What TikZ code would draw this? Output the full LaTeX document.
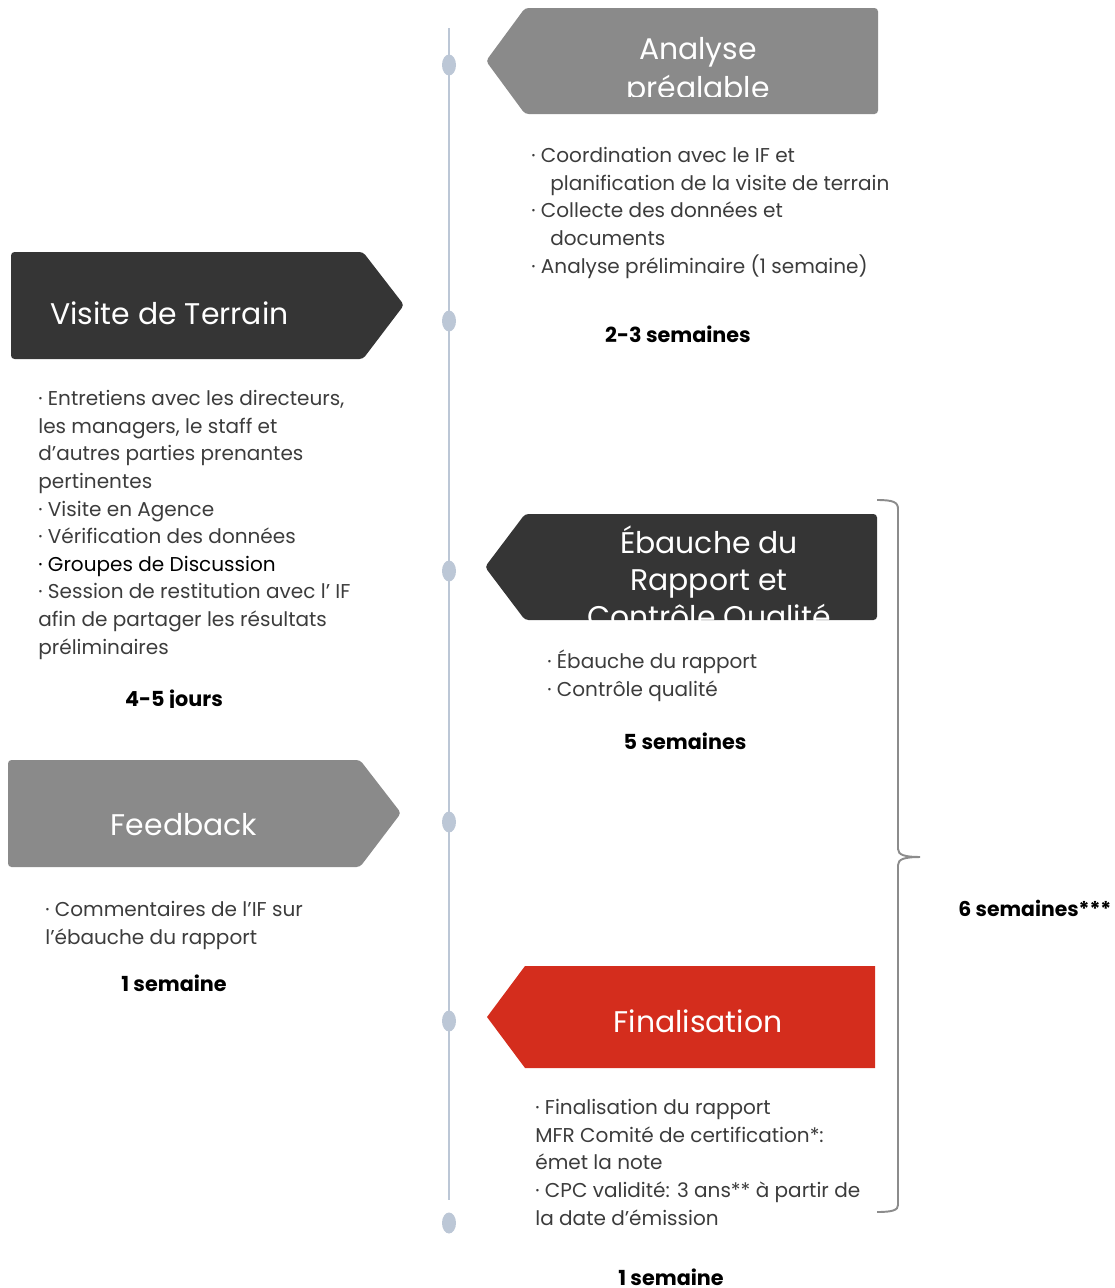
\documentclass[tikz,border=0pt]{standalone}
\usepackage{fontspec}
\setmainfont{Poppins}
\usetikzlibrary{shapes.geometric}

\definecolor{boxgray}{HTML}{8A8A8A}
\definecolor{boxdark}{HTML}{353535}
\definecolor{boxred}{HTML}{D42D1D}
\definecolor{linecol}{HTML}{BCC7D6}
\definecolor{bodytext}{HTML}{3C3C3C}
\definecolor{bracecol}{HTML}{8C8C8C}

\tikzset{
  body/.style={font=\fontsize{11.4}{15.7}\selectfont, text=bodytext,
    inner sep=0pt, align=left, anchor=base west},
  title/.style={font=\fontsize{17}{21}\selectfont, text=white,
    inner sep=0pt, align=center},
  dur/.style={font=\fontsize{11.8}{14}\selectfont\bfseries, text=black,
    inner sep=0pt},
  dot/.style={ellipse, fill=linecol, inner sep=0pt,
    minimum width=0.28cm, minimum height=0.42cm},
  tline/.style={linecol, line width=1.7pt}
}

% indent of the continued lines
\def\ind{\hspace*{0.38cm}}

\begin{document}
\begin{tikzpicture}[x=0.02cm, y=-0.02cm]
  \useasboundingbox (0,0) rectangle (1115,1288);

  % timeline
  \coordinate (ltop) at (449,28);
  \coordinate (lbot) at (449,1200);
  \draw[tline] (ltop) -- (lbot);
  \node[dot] (d1) at (449,  65) {};
  \node[dot] (d2) at (449, 321) {};
  \node[dot] (d3) at (449, 571) {};
  \node[dot] (d4) at (449, 822) {};
  \node[dot] (d5) at (449,1021) {};
  \node[dot] (d6) at (449,1223) {};

  % Analyse prealable
  \fill[boxgray, rounded corners=2pt]
    (486,61) -- (525,8) -- (878,8) -- (878,114) -- (525,114) -- cycle;
  \begin{scope}
    \clip (525,8) rectangle (878,96);
    \node[title, font=\fontsize{17}{22}\selectfont] (analyse) at (698,72) {Analyse\\préalable};
  \end{scope}
  \node[body] (analyseTxt) at (531,273)
    {· Coordination avec le IF et\\
     \ind planification de la visite de terrain\\
     · Collecte des données et\\
     \ind documents\\
     · Analyse préliminaire (1 semaine)};
  \node[dur] (analyseDur) at (678,334) {2-3 semaines};

  % Visite de terrain
  \fill[boxdark, rounded corners=2pt]
    (11,252) -- (363,252) -- (404,305) -- (363,359) -- (11,359) -- cycle;
  \node[title, anchor=west] (visite) at (50,313) {Visite de Terrain};
  \node[body] (visiteTxt) at (38,654)
    {· Entretiens avec les directeurs,\\
     les managers, le staff et\\
     d’autres parties prenantes\\
     pertinentes\\
     · Visite en Agence\\
     · Vérification des données\\
     \textcolor{black}{· Groupes de Discussion}\\
     · Session de restitution avec l’ IF\\
     afin de partager les résultats\\
     préliminaires};
  \begin{scope}
    \clip (100,680) rectangle (260,707);
    \node[dur] (visiteDur) at (174,701) {4-5 jours};
  \end{scope}

  % Ebauche du rapport
  \fill[boxdark, rounded corners=2pt]
    (485,567) -- (525,514) -- (877,514) -- (877,620) -- (525,620) -- cycle;
  \begin{scope}
    \clip (525,514) rectangle (877,620);
    \node[title] (ebauche) at (709,579) {Ébauche du\\Rapport et\\Contrôle Qualité};
  \end{scope}
  \node[body] (ebaucheTxt) at (547,696)
    {· Ébauche du rapport\\
     · Contrôle qualité};
  \node[dur] (ebaucheDur) at (685,741) {5 semaines};

  % Feedback
  \fill[boxgray, rounded corners=2pt]
    (8,760) -- (360,760) -- (401,813) -- (360,867) -- (8,867) -- cycle;
  \node[title] (feedback) at (184,825) {Feedback};
  \node[body] (feedbackTxt) at (45,944)
    {· Commentaires de l’IF sur\\
     l’ébauche du rapport};
  \node[dur] (feedbackDur) at (174,983) {1 semaine};

  % Finalisation
  \fill[boxred]
    (487,1017) -- (525,966) -- (875,966) -- (875,1068) -- (525,1068) -- cycle;
  \node[title] (final) at (698,1021) {Finalisation};
  \node[body] (finalTxt) at (535,1225)
    {· Finalisation du rapport\\
     MFR Comité de certification*:\\
     émet la note\\
     · CPC validité: 3 ans** à partir de\\
     la date d'émission};
  \node[dur] (finalDur) at (671,1277) {1 semaine};

  % accolade
  \coordinate (btop) at (877,500);
  \coordinate (btip) at (920,857);
  \coordinate (bbot) at (877,1212);
  \draw[bracecol, line width=1.1pt]
    (btop) .. controls (893,500) and (898,502) .. (898,509) -- (898,849)
    .. controls (898,855) and (905,857) .. (btip)
    .. controls (905,857) and (898,859) .. (898,865) -- (898,1205)
    .. controls (898,1210) and (893,1212) .. (bbot);
  \node[dur, anchor=west, font=\fontsize{11.6}{14}\selectfont\bfseries] (total) at (958,908) {6 semaines***};
\end{tikzpicture}
\end{document}
